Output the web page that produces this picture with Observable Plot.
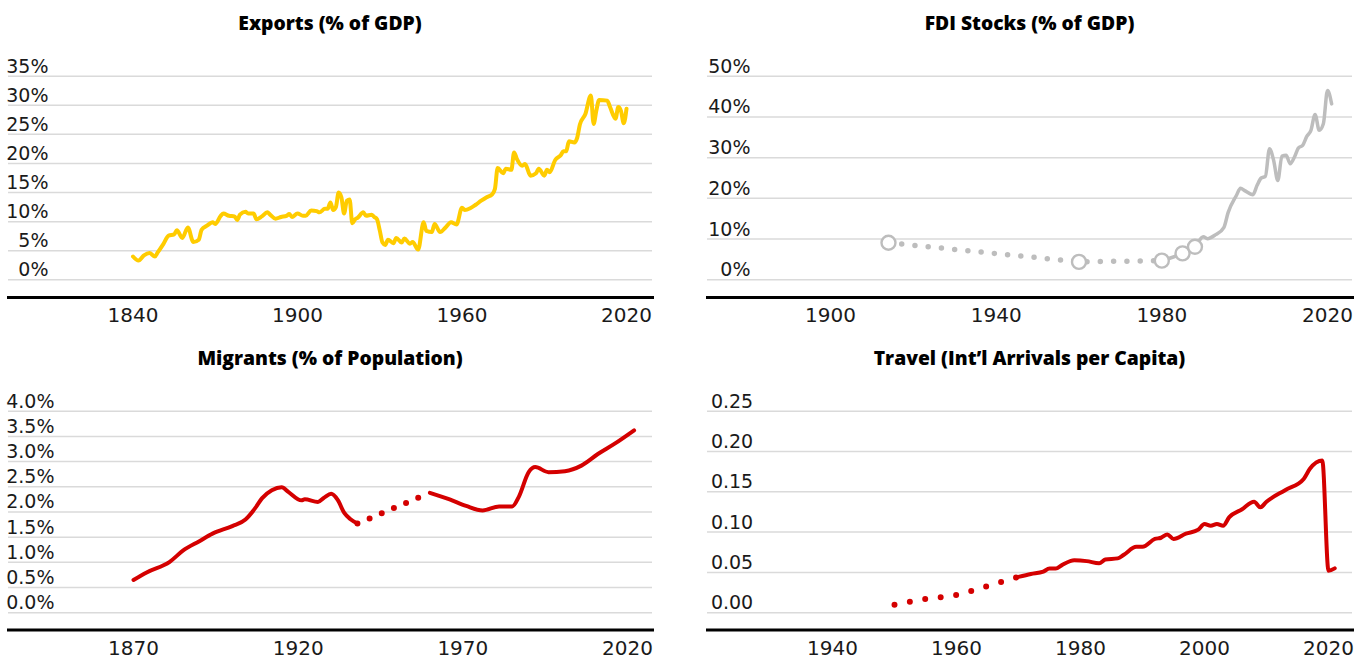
<!DOCTYPE html>
<html>
<head>
<meta charset="utf-8">
<script src="https://cdn.jsdelivr.net/npm/d3@7"></script>
<script src="https://cdn.jsdelivr.net/npm/@observablehq/plot@0.6"></script>
<style>
  body { margin: 0; background: #fff; }
  #grid { display: grid; grid-template-columns: 684px 685px; grid-template-rows: 335px 325px; width: 1369px; height: 660px; overflow: hidden; }
  .panel { position: relative; }
  .title { height: 48px; line-height: 46px; text-align: center; font-family: "Open Sans", "Noto Sans", sans-serif; font-weight: 800; font-size: 19.3px; color: #000; white-space: nowrap; }
  svg { display: block; }
</style>
</head>
<body>
<div id="grid"></div>
<script>
// ---------- Exports (% of GDP) ----------
const exportYears = [1840,1842,1844,1846,1848,1849,1851,1853,1855,1856,1858,1860,1862,1864,1865,1867,1869,1870,1872,1873,1875,1877,1878,1879,1881,1882,1884,1885,1887,1889,1890,1892,1894,1896,1897,1898,1900,1902,1903,1905,1907,1908,1910,1911,1912,1913,1914,1915,1916,1917,1918,1919,1920,1921,1922,1924,1925,1927,1928,1929,1930,1931,1932,1933,1935,1936,1938,1939,1941,1942,1944,1946,1947,1949,1950,1952,1954,1956,1958,1960,1961,1963,1965,1967,1969,1971,1972,1973,1975,1976,1978,1979,1980,1982,1983,1985,1987,1988,1990,1991,1992,1994,1996,1997,1998,1999,2001,2002,2003,2005,2007,2008,2009,2010,2013,2014,2016,2017,2018,2019,2020];
const exportValues = [4.0,3.3,4.2,4.6,4.0,4.7,6.1,7.6,7.8,8.5,7.2,9.0,6.5,6.9,8.6,9.3,9.9,9.6,11.0,11.4,11.0,10.9,10.3,11.2,11.7,11.4,11.4,10.4,10.9,11.6,11.2,10.5,10.8,11.0,11.3,10.8,11.4,11.0,11.0,11.9,11.8,11.6,12.2,12.2,13.3,12.0,12.5,15.0,14.2,11.4,13.6,13.8,9.7,10.4,10.7,11.6,11.0,11.2,10.8,10.4,8.5,6.4,6.0,6.9,6.3,7.2,6.4,7.1,6.2,6.5,5.2,9.9,8.4,8.2,9.6,8.2,9.0,9.9,9.5,12.4,12.0,12.3,12.9,13.6,14.2,14.7,15.6,19.2,18.3,19.1,18.9,21.9,20.8,19.6,19.9,17.9,18.3,19.1,17.9,18.9,18.5,20.6,21.4,22.1,22.1,23.8,23.6,24.4,26.7,28.5,31.7,26.8,29.1,30.9,30.8,29.7,27.7,29.7,29.0,26.9,29.4];
const exportTicksY = [0,5,10,15,20,25,30,35];
const exportTicksX = [1840,1900,1960,2020];

// ---------- FDI Stocks (% of GDP) ----------
const fdiBenchYears = [1914,1960,1980,1985,1988];
const fdiBenchValues = [9.1,4.4,4.7,6.5,8.1];
const fdiDotYears = [1914,1960,1980];
const fdiDotValues = [9.1,4.4,4.7];
const fdiYears = [1980,1985,1988,1990,1991,1993,1995,1996,1998,1999,2000,2002,2003,2004,2005,2006,2007,2008,2009,2010,2011,2012,2013,2014,2015,2016,2017,2018,2019,2020,2021];
const fdiValues = [4.7,6.5,8.1,10.6,10.1,11.1,12.9,16.5,20.7,22.5,21.9,20.9,23.2,25.0,25.4,32.2,29.3,24.4,30.4,30.6,28.5,30.1,32.4,33.0,35.2,36.7,40.6,36.7,38.3,46.5,43.2];
const fdiTicksY = [0,10,20,30,40,50];
const fdiTicksX = [1900,1940,1980,2020];

// ---------- Migrants (% of Population) ----------
const migYears = [1870,1874,1881,1885,1890,1894,1900,1904,1907,1909,1912,1915,1917,1921,1922,1926,1928,1930,1932,1934,1936,1938];
const migValues = [0.65,0.80,1.01,1.23,1.42,1.57,1.72,1.85,2.08,2.27,2.43,2.49,2.40,2.23,2.25,2.20,2.29,2.36,2.24,1.98,1.85,1.77];
const migGapYears = [1938,1960];
const migGapValues = [1.77,2.38];
const migLateYears = [1960,1966,1971,1976,1981,1985,1987,1990,1992,1996,2001,2006,2011,2016,2022];
const migLateValues = [2.38,2.25,2.12,2.03,2.11,2.11,2.30,2.79,2.89,2.79,2.81,2.92,3.15,3.35,3.62];
const migTicksY = [0,0.5,1,1.5,2,2.5,3,3.5,4];
const migTicksX = [1870,1920,1970,2020];

// ---------- Travel (Int'l Arrivals per Capita) ----------
const travelDotYears = [1950,1955,1960,1965,1970];
const travelDotValues = [0.010,0.017,0.022,0.033,0.0445];
const travelYears = [1970,1972,1974,1975,1976,1977,1979,1981,1983,1984,1986,1987,1989,1990,1992,1993,1994,1995,1997,1999,2000,2001,2002,2003,2004,2006,2008,2009,2010,2013,2016,2017,2019,2020,2021];
const travelValues = [0.0445,0.048,0.051,0.0547,0.0547,0.059,0.065,0.064,0.0613,0.066,0.0674,0.072,0.0817,0.0817,0.0915,0.093,0.097,0.0915,0.098,0.103,0.110,0.1078,0.110,0.1078,0.1185,0.128,0.1377,0.1307,0.1377,0.152,0.166,0.1785,0.1887,0.052,0.055];
const travelTicksY = [0,0.05,0.10,0.15,0.20,0.25];
const travelTicksX = [1940,1960,1980,2000,2020];

const titles = ["Exports (% of GDP)", "FDI Stocks (% of GDP)", "Migrants (% of Population)", "Travel (Int\u2019l Arrivals per Capita)"];

const zip = (xs, ys) => xs.map((x, i) => ({year: x, value: ys[i]}));

const YELLOW = "#ffcc00", RED = "#d40000", GRAY = "#bdbdbd", GRID = "#dadada", TEXT = "#1a1a1a";

function panel({title, width, height, mL, mR, mB, xDomain, xRange, yDomain, yRange, yTicks, xTicks, yFmt, labelDx, marks}) {
  const div = document.createElement("div");
  div.className = "panel";
  const t = document.createElement("div");
  t.className = "title";
  t.style.marginLeft = mL + "px";
  t.style.width = (width - mL - mR) + "px";
  t.textContent = title;
  div.appendChild(t);
  const chart = Plot.plot({
    width, height,
    marginLeft: mL, marginRight: mR, marginTop: 0, marginBottom: mB,
    style: {fontFamily: "'DejaVu Sans', sans-serif", fontSize: "19px", color: TEXT, background: "white"},
    x: {domain: xDomain, range: xRange},
    y: {domain: yDomain, range: yRange},
    marks: [
      Plot.gridY(yTicks, {stroke: GRID, strokeOpacity: 1, strokeWidth: 1.5}),
      Plot.axisY(yTicks, {anchor: "left", tickSize: 0, tickPadding: 0, dx: labelDx, dy: -3.5, textAnchor: "end", lineAnchor: "bottom", tickFormat: yFmt, label: null, fill: TEXT}),
      Plot.axisX(xTicks, {anchor: "bottom", tickSize: 0, tickPadding: 10.5, tickFormat: "d", label: null, fontSize: 20, fill: TEXT}),
      Plot.frame({anchor: "bottom", stroke: "#000", strokeWidth: 3}),
      ...marks
    ]
  });
  div.appendChild(chart);
  return div;
}

const grid = document.getElementById("grid");

grid.appendChild(panel({
  title: titles[0], width: 684, height: 287, mL: 8, mR: 32, mB: 38,
  xDomain: [1840, 2020], xRange: [132.5, 626],
  yDomain: [0, 35], yRange: [231.3, 27.7],
  yTicks: exportTicksY, xTicks: exportTicksX, yFmt: d => d + "%", labelDx: 40,
  marks: [
    Plot.line(zip(exportYears, exportValues), {x: "year", y: "value", stroke: YELLOW, strokeWidth: 4, curve: "monotone-x", strokeLinejoin: "round"})
  ]
}));

grid.appendChild(panel({
  title: titles[1], width: 685, height: 287, mL: 23, mR: 17, mB: 38,
  xDomain: [1900, 2020], xRange: [146, 643],
  yDomain: [0, 50], yRange: [231.3, 27.7],
  yTicks: fdiTicksY, xTicks: fdiTicksX, yFmt: d => d + "%", labelDx: 43,
  marks: [
    Plot.line(zip(fdiDotYears, fdiDotValues), {x: "year", y: "value", stroke: GRAY, strokeWidth: 5.5, strokeDasharray: "0,13.3", strokeLinecap: "round"}),
    Plot.line(zip(fdiYears, fdiValues), {x: "year", y: "value", stroke: GRAY, strokeWidth: 3.5, curve: "monotone-x", strokeLinejoin: "round"}),
    Plot.dot(zip(fdiBenchYears, fdiBenchValues), {x: "year", y: "value", r: 7, stroke: GRAY, strokeWidth: 2.4, fill: "white"})
  ]
}));

grid.appendChild(panel({
  title: titles[2], width: 684, height: 277, mL: 8, mR: 32, mB: 30.5,
  xDomain: [1870, 2020], xRange: [133, 627],
  yDomain: [0, 4], yRange: [229.2, 27.7],
  yTicks: migTicksY, xTicks: migTicksX, yFmt: d => d.toFixed(1) + "%", labelDx: 46,
  marks: [
    Plot.line(zip(migGapYears, migGapValues), {x: "year", y: "value", stroke: RED, strokeWidth: 6, strokeDasharray: "0,13.2", strokeLinecap: "round"}),
    Plot.line(zip(migYears, migValues), {x: "year", y: "value", stroke: RED, strokeWidth: 4, curve: "monotone-x", strokeLinejoin: "round"}),
    Plot.line(zip(migLateYears, migLateValues), {x: "year", y: "value", stroke: RED, strokeWidth: 4, curve: "monotone-x", strokeLinejoin: "round"})
  ]
}));

grid.appendChild(panel({
  title: titles[3], width: 685, height: 277, mL: 23, mR: 17, mB: 30.5,
  xDomain: [1940, 2020], xRange: [148, 644],
  yDomain: [0, 0.25], yRange: [229.2, 27.7],
  yTicks: travelTicksY, xTicks: travelTicksX, yFmt: d => d.toFixed(2), labelDx: 45.7,
  marks: [
    Plot.line(zip(travelDotYears, travelDotValues), {x: "year", y: "value", stroke: RED, strokeWidth: 6, strokeDasharray: "0,15.6", strokeLinecap: "round", curve: "monotone-x"}),
    Plot.line(zip(travelYears, travelValues), {x: "year", y: "value", stroke: RED, strokeWidth: 4, curve: "monotone-x", strokeLinejoin: "round"})
  ]
}));
</script>
</body>
</html>
